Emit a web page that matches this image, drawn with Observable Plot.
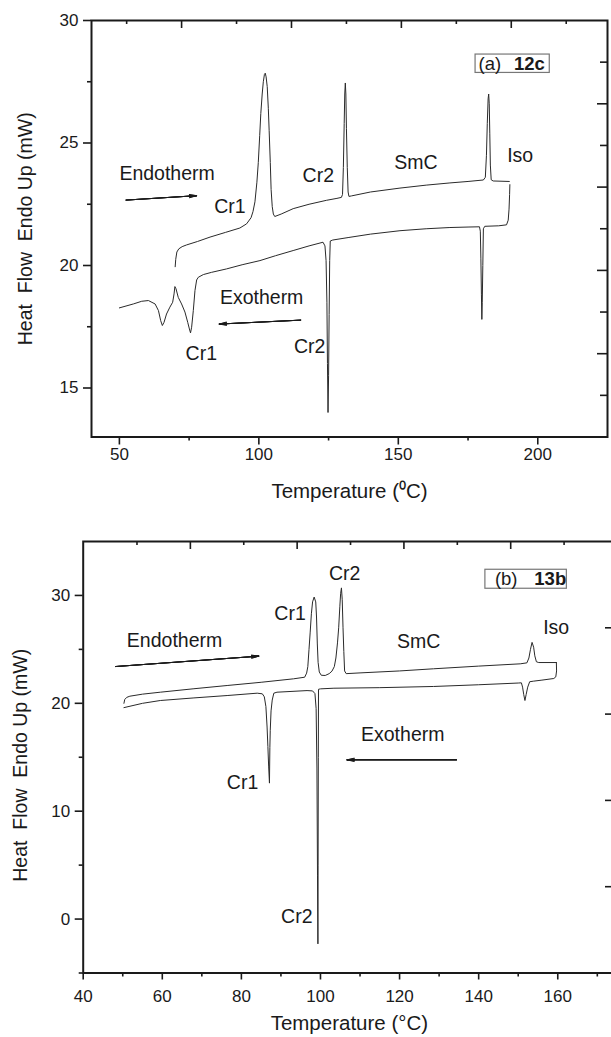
<!DOCTYPE html>
<html><head><meta charset="utf-8">
<script src="https://cdn.jsdelivr.net/npm/d3@7"></script>
<script src="https://cdn.jsdelivr.net/npm/@observablehq/plot@0.6"></script>
<style>
html,body{margin:0;padding:0;background:#fff;overflow:hidden;width:611px;height:1037px}
#wrap{width:611px;height:1037px;overflow:hidden;position:relative;background:#fff}
#wrap svg{display:block;max-width:none !important;height:auto}
</style></head><body><div id="wrap"></div>
<script>
// ---------- Panel (a) 12c : DSC heating / cooling ----------
const heatA = [[70.0,19.95],[70.2,20.25],[70.6,20.55],[71.3,20.68],[72.5,20.77],[74.1,20.84],[78,20.98],[82.5,21.16],[88,21.35],[93.2,21.53],[95.6,21.7],[97.2,21.95],[97.9,22.2],[98.6,22.6],[99.3,23.4],[99.8,24.2],[100.3,25.3],[100.7,26.2],[101.2,27.0],[101.6,27.5],[102.0,27.8],[102.3,27.85],[102.6,27.7],[103.0,27.3],[103.4,26.4],[103.7,25.5],[104.1,24.2],[104.4,23.1],[104.8,22.4],[105.2,22.1],[105.7,22.0],[108,22.1],[112.3,22.32],[118,22.5],[124.2,22.66],[128,22.74],[129.6,22.78],[130.0,22.9],[130.3,24.0],[130.6,25.8],[130.8,27.0],[131.0,27.45],[131.2,27.0],[131.4,25.6],[131.7,24.0],[132.0,23.0],[132.3,22.82],[133.2,22.84],[140,23.0],[150.6,23.16],[160,23.28],[168.5,23.37],[175,23.43],[180.5,23.49],[181.2,23.6],[181.6,24.5],[181.9,25.8],[182.2,26.8],[182.4,27.0],[182.6,26.6],[182.8,25.4],[183.0,24.1],[183.3,23.5],[184,23.45],[189.8,23.43]];
const coolA = [[190.0,23.3],[189.9,22.9],[189.7,22.3],[189.4,21.85],[188.8,21.66],[186,21.62],[181.0,21.6],[180.5,21.5],[180.3,20.0],[180.1,18.5],[179.95,17.8],[179.8,18.8],[179.6,20.3],[179.4,21.4],[179.1,21.58],[175,21.57],[168.5,21.55],[160,21.5],[150.6,21.42],[140,21.28],[132,21.14],[126.5,21.04],[125.6,21.0],[125.4,20.2],[125.2,18],[125.0,15.5],[124.8,14.0],[124.6,16.0],[124.4,18.5],[124.1,20.2],[123.7,20.8],[123.0,20.95],[118,20.8],[112.3,20.61],[106,20.4],[100.4,20.2],[94,20.03],[88.4,19.86],[83,19.72],[80.1,19.63],[78.3,19.52],[77.7,19.41],[77.1,18.98],[76.5,18.16],[75.9,17.48],[75.5,17.25],[75.1,17.41],[74.5,17.68],[73.5,18.1],[72.3,18.43],[71.1,18.7],[70.3,19.05],[69.9,19.14],[69.6,18.84],[69.1,18.5],[68.1,18.3],[66.9,18.02],[66.0,17.68],[65.4,17.55],[64.8,17.75],[64.0,18.16],[62.8,18.43],[60.4,18.57],[58.0,18.54],[55.0,18.43],[50.0,18.27]];
const xTicksA = [50,100,150,200];
const xMinorA = [75,125,175];
const yTicksA = [15,20,25,30];
const yMinorA = [17.5,22.5,27.5];
const topMajorA = [72.3,111.7,151.1,190.5];
const topMinorA = [52.6,92,131.4,170.8,210.2];
const rightMajorA = [26.6,23.2,19.8,16.4];
const rightMinorA = [28.3,24.9,21.5,18.1,14.7];
const labelsA = [
  {t:"Endotherm",x:67.1,y:23.73},{t:"Cr1",x:89.6,y:22.39},{t:"Cr2",x:121.3,y:23.67},
  {t:"SmC",x:156.3,y:24.18},{t:"Iso",x:193.7,y:24.48},{t:"Exotherm",x:101.0,y:18.67},
  {t:"Cr1",x:79.35,y:16.38},{t:"Cr2",x:118.2,y:16.67}];
const arrowsA = [{x1:52.4,y1:22.67,x2:77.7,y2:22.85},{x1:115.0,y1:17.77,x2:85.8,y2:17.61}];
const tagBoxA = [{x1:177.7,x2:204.3,y1:27.86,y2:28.61}];
const tagTextA = [{t:"(a)",x:182.8,y:28.24,w:"normal"},{t:"12c",x:197.0,y:28.24,w:"bold"}];

// ---------- Panel (b) 13b ----------
const heatB = [[50.3,20.0],[50.5,20.35],[51.0,20.55],[51.8,20.66],[55,20.85],[59.5,21.03],[68,21.35],[76.4,21.65],[85,21.95],[93.2,22.27],[96.0,22.42],[96.5,22.8],[96.8,23.4],[97.1,25.0],[97.4,26.6],[97.7,28.3],[98.0,29.4],[98.4,29.85],[98.8,29.4],[99.0,28.0],[99.2,25.5],[99.4,23.8],[99.7,22.9],[100.2,22.6],[101.2,22.58],[102.2,22.75],[102.9,22.98],[103.5,23.4],[103.9,24.2],[104.3,25.6],[104.6,27.0],[104.9,29.0],[105.1,30.2],[105.3,30.7],[105.5,29.6],[105.7,27.0],[105.9,24.8],[106.1,23.0],[106.5,22.75],[110,22.82],[120,23.0],[128.6,23.2],[140,23.45],[150.5,23.66],[152.2,23.75],[152.7,24.2],[153.1,25.0],[153.5,25.65],[153.9,25.2],[154.2,24.4],[154.6,23.85],[155.2,23.78],[159.65,23.78]];
const coolB = [[159.65,23.78],[159.7,23.0],[159.5,22.45],[159.0,22.3],[156,22.15],[153.8,22.05],[152.9,22.0],[152.4,21.5],[152.0,20.8],[151.7,20.26],[151.4,20.8],[151.1,21.5],[150.8,21.9],[150,21.88],[140,21.72],[128.6,21.56],[115,21.45],[103.4,21.4],[100.0,21.34],[99.5,21.3],[99.45,15],[99.4,5],[99.35,-2.3],[99.25,4],[99.1,14],[98.9,19.5],[98.6,20.9],[98.0,21.15],[96.6,21.18],[89.0,21.03],[88.2,20.94],[87.8,20.3],[87.5,19.3],[87.3,17.5],[87.2,15.9],[87.1,12.6],[86.9,14.1],[86.7,16.0],[86.5,17.8],[86.2,19.7],[85.8,20.6],[85.3,20.88],[84.0,20.94],[76.4,20.72],[68,20.5],[59.5,20.26],[55,20.0],[50.3,19.6]];
const xTicksB = [40,60,80,100,120,140,160];
const xMinorB = [50,70,90,110,130,150,170];
const yTicksB = [0,10,20,30];
const yMinorB = [-5,5,15,25];
const topMajorB = [67.1,94.1,121.1,148.1];
const topMinorB = [53.6,80.6,107.6,134.6,161.6];
const rightTicksB = [27,19,11,3];
const labelsB = [
  {t:"Endotherm",x:63.1,y:25.83},{t:"Cr1",x:92.3,y:28.3},{t:"Cr2",x:106.1,y:31.98},
  {t:"SmC",x:124.8,y:25.75},{t:"Iso",x:159.6,y:26.99},{t:"Exotherm",x:120.8,y:17.09},
  {t:"Cr1",x:80.3,y:12.6},{t:"Cr2",x:94.0,y:0.24}];
const arrowsB = [{x1:48.2,y1:23.41,x2:84.4,y2:24.37},{x1:134.4,y1:14.76,x2:106.7,y2:14.76}];
const tagBoxB = [{x1:141.7,x2:162.3,y1:30.62,y2:32.38}];
const tagTextB = [{t:"(b)",x:146.97,y:31.5,w:"normal"},{t:"13b",x:158.1,y:31.5,w:"bold"}];

const FONT = "'Liberation Sans', Arial, Helvetica, sans-serif";
const INK = "#1a1a1a";
const headAngles = [26, 18, 10, 4];

function panel(c) {
  const innerW = c.width - c.ml - c.mr, innerH = c.height - c.mt - c.mb;
  return Plot.plot({
    width: c.width, height: c.height,
    marginTop: c.mt, marginRight: c.mr, marginBottom: c.mb, marginLeft: c.ml,
    style: {fontFamily: FONT, background: "white", color: INK, maxWidth: "none"},
    x: {domain: c.xDomain}, y: {domain: c.yDomain},
    marks: [
      Plot.axisX(c.xTicks, {anchor: "bottom", tickSize: c.xTickSize, tickPadding: c.xPad, fontSize: 17, strokeWidth: 1.6, label: null, fill: INK}),
      Plot.axisX(c.xMinor, {anchor: "bottom", tickSize: 4, tickFormat: () => "", strokeWidth: 1.6, label: null}),
      Plot.axisY(c.yTicks, {anchor: "left", tickSize: 8, tickPadding: 5, fontSize: 17, strokeWidth: 1.6, label: null, fill: INK}),
      Plot.axisY(c.yMinor, {anchor: "left", tickSize: 4, tickFormat: () => "", strokeWidth: 1.6, label: null}),
      Plot.tickX(c.topMajor, {x: d => d, insetBottom: innerH - 8, stroke: INK, strokeWidth: 1.6}),
      Plot.tickX(c.topMinor, {x: d => d, insetBottom: innerH - 4, stroke: INK, strokeWidth: 1.6}),
      Plot.tickY(c.rightMajor, {y: d => d, insetLeft: innerW - 10, stroke: INK, strokeWidth: 1.6}),
      Plot.tickY(c.rightMinor, {y: d => d, insetLeft: innerW - 7, stroke: INK, strokeWidth: 1.6}),
      Plot.line(c.heat, {x: d => d[0], y: d => d[1], stroke: "#2a2a2a", strokeWidth: 1}),
      Plot.line(c.cool, {x: d => d[0], y: d => d[1], stroke: "#2a2a2a", strokeWidth: 1}),
      ...headAngles.map(a => Plot.arrow(c.arrows, {x1: "x1", y1: "y1", x2: "x2", y2: "y2", stroke: INK, strokeWidth: 1, headLength: 11, headAngle: a})),
      Plot.text(c.labels, {x: "x", y: "y", text: "t", fontSize: 19.5, fill: INK}),
      Plot.rect(c.tagBox, {x1: "x1", x2: "x2", y1: "y1", y2: "y2", fill: "none", stroke: "#777", strokeWidth: 1.2}),
      Plot.text(c.tagText.filter(d => d.w !== "bold"), {x: "x", y: "y", text: "t", fontSize: 18.5, fill: INK}),
      Plot.text(c.tagText.filter(d => d.w === "bold"), {x: "x", y: "y", text: "t", fontWeight: "bold", fontSize: 18.5, fill: INK}),
      Plot.frame({stroke: INK, strokeWidth: 2}),
      Plot.text([c.xTitle], {frameAnchor: "bottom", textAnchor: "middle", lineAnchor: "middle", dy: c.xTitleDy, fontSize: 20.5, fill: INK}),
      Plot.text([c.yTitle], {frameAnchor: "left", textAnchor: "middle", lineAnchor: "middle", rotate: -90, dx: c.yTitleDx, dy: c.yTitleDy, fontSize: 19.5, fill: INK})
    ]
  });
}

const wrap = document.getElementById("wrap");
wrap.appendChild(panel({
  width: 611, height: 505, mt: 20, mr: 4, mb: 68.5, ml: 91,
  xDomain: [40, 225], yDomain: [13, 30],
  xTicks: xTicksA, xMinor: xMinorA, yTicks: yTicksA, yMinor: yMinorA,
  xTickSize: 8, xPad: 3,
  topMajor: topMajorA, topMinor: topMinorA, rightMajor: rightMajorA, rightMinor: rightMinorA,
  heat: heatA, cool: coolA, arrows: arrowsA, labels: labelsA, tagBox: tagBoxA, tagText: tagTextA,
  xTitle: "Temperature (\u2070C)", xTitleDy: 54,
  yTitle: "Heat\u00a0 Flow\u00a0 Endo Up (mW)", yTitleDx: -66, yTitleDy: 0
}));
wrap.appendChild(panel({
  width: 625, height: 532, mt: 36, mr: 10, mb: 64.5, ml: 82.7,
  xDomain: [40, 174.6], yDomain: [-5, 35],
  xTicks: xTicksB, xMinor: xMinorB, yTicks: yTicksB, yMinor: yMinorB,
  xTickSize: 7, xPad: 10,
  topMajor: topMajorB, topMinor: topMinorB, rightMajor: rightTicksB, rightMinor: [],
  heat: heatB, cool: coolB, arrows: arrowsB, labels: labelsB, tagBox: tagBoxB, tagText: tagTextB,
  xTitle: "Temperature (\u00b0C)", xTitleDy: 50,
  yTitle: "Heat\u00a0 Flow\u00a0 Endo Up (mW)", yTitleDx: -62.7, yTitleDy: 8
}));
</script></body></html>
